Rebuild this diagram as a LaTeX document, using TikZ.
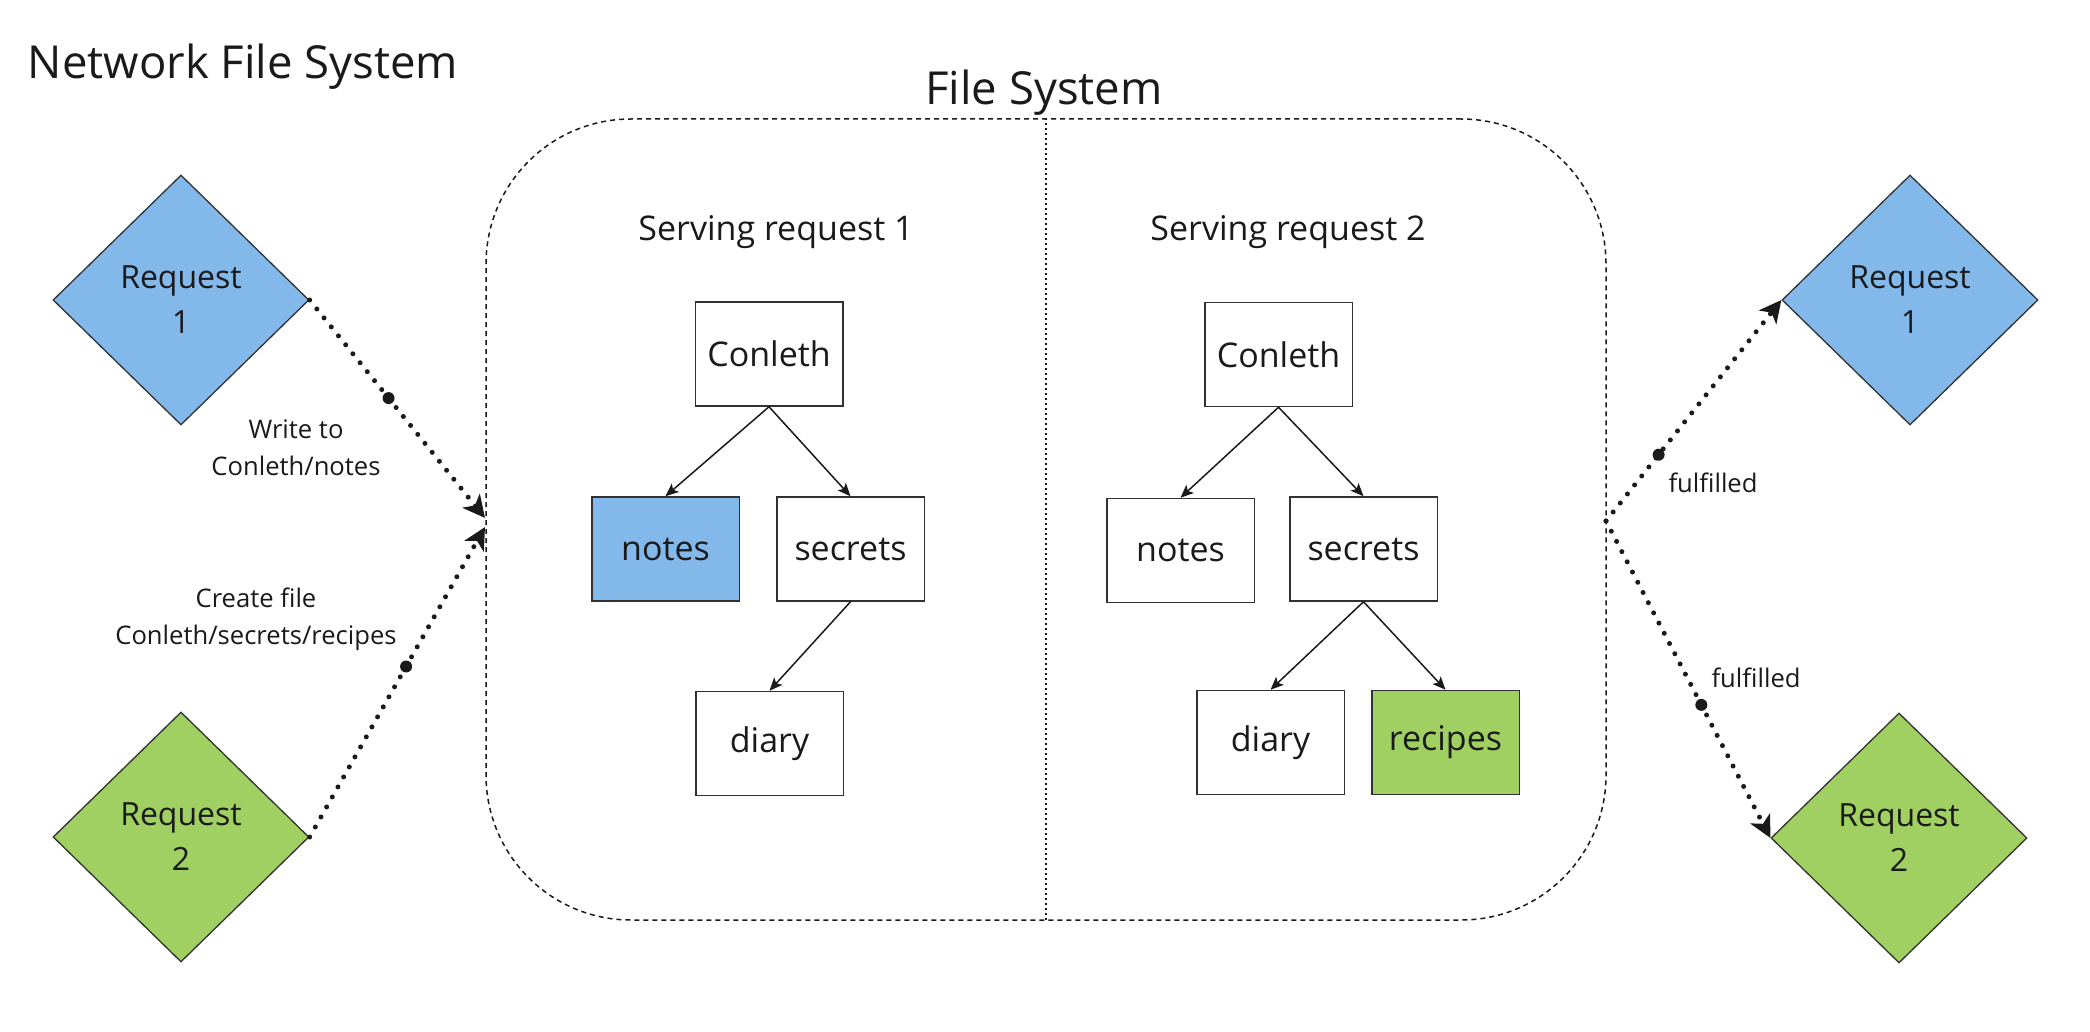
\documentclass[tikz,border=0pt]{standalone}
\usepackage{fontspec}
\setmainfont{Open Sans}
\usetikzlibrary{shapes.geometric,arrows.meta}
\definecolor{reqblue}{HTML}{83B8EB}
\definecolor{reqgreen}{HTML}{A0CF62}
\definecolor{ink}{HTML}{1A1A1A}
\tikzset{
  treebox/.style={draw=ink!90, line width=1.5pt, minimum width=147.5pt, minimum height=104pt, inner sep=0pt, fill=white, text=ink, font=\fontsize{34}{40}\selectfont},
  reqdiamond/.style={diamond, draw=ink!90, line width=1.3pt, minimum width=256pt, minimum height=250pt, inner sep=0pt, shape aspect=1.02, align=center, text=ink, font=\fontsize{32}{45}\selectfont},
  treearrow/.style={draw=ink, line width=1.5pt, -{Stealth[length=13pt,width=11pt,inset=3pt]}},
  flow/.style={draw=ink, line width=5pt, dash pattern=on 0pt off 11.5pt, line cap=round, -{Stealth[length=22pt,width=22pt,inset=6pt]}},
  bigdot/.style={circle, fill=ink, minimum size=12pt, inner sep=0pt},
  edgelabel/.style={align=center, text=ink, font=\fontsize{25.6}{37}\selectfont},
  heading/.style={text=ink, font=\fontsize{45.5}{60}\selectfont},
  subheading/.style={text=ink, font=\fontsize{34}{44}\selectfont},
  fsbox/.style={draw=ink, line width=1.5pt, dash pattern=on 5pt off 4pt, rounded corners=145pt, minimum width=1120pt, minimum height=801pt, inner sep=0pt}
}
\begin{document}
\begin{tikzpicture}[x=1pt,y=-1pt]
\useasboundingbox[fill=white] (0,0) rectangle (2090,1032);

% titles
\node[heading] (title) at (243,67) {Network File System};
\node[heading] (fstitle) at (1044,93) {File System};

% file system box
\node[fsbox] (fs) at (1046,519.5) {};
\draw[ink, line width=1.8pt, dash pattern=on 2pt off 3pt] (fs.north) -- (fs.south);

\node[subheading] (serv1) at (776,232) {Serving request 1};
\node[subheading] (serv2) at (1288,232) {Serving request 2};

% tree 1
\node[treebox] (c1) at (769,354) {Conleth};
\node[treebox, fill=reqblue] (n1) at (665.5,549) {notes};
\node[treebox] (s1) at (850.5,549) {secrets};
\node[treebox] (di1) at (769.5,743.5) {diary};
\draw[treearrow] (c1.south) -- (n1.north);
\draw[treearrow] (c1.south) -- (s1.north);
\draw[treearrow] (s1.south) -- (di1.north);

% tree 2
\node[treebox] (c2) at (1278.5,354.5) {Conleth};
\node[treebox] (n2) at (1180.5,550.5) {notes};
\node[treebox] (s2) at (1363.5,549) {secrets};
\node[treebox] (di2) at (1270.5,742.5) {diary};
\node[treebox, fill=reqgreen] (r2) at (1445.5,742.5) {recipes};
\draw[treearrow] (c2.south) -- (n2.north);
\draw[treearrow] (c2.south) -- (s2.north);
\draw[treearrow] (s2.south) -- (di2.north);
\draw[treearrow] (s2.south) -- (r2.north);

% requests
\node[reqdiamond, fill=reqblue] (q1) at (181,300) {Request\\1};
\node[reqdiamond, fill=reqgreen] (q2) at (181,837) {Request\\2};
\node[reqdiamond, fill=reqblue] (q3) at (1910,300) {Request\\1};
\node[reqdiamond, fill=reqgreen] (q4) at (1899,838) {Request\\2};

% connectors
\coordinate (in1) at (485,518);
\coordinate (in2) at (485,527);
\coordinate (out) at (1606,521);
\draw[flow] (q1.east) -- node[pos=0.45, bigdot] (m1) {} (in1);
\draw[flow] (q2.east) -- node[pos=0.55, bigdot] (m2) {} (in2);
\draw[flow] (out) -- node[pos=0.3, bigdot] (m3) {} (q3.west);
\draw[flow] (out) -- node[pos=0.58, bigdot] (m4) {} (q4.west);

\node[edgelabel] (l1) at (296,448) {Write to\\Conleth/notes};
\node[edgelabel] (l2) at (256,619) {Create file\\Conleth/secrets/recipes};
\node[edgelabel] (l3) at (1713,483) {fulfilled};
\node[edgelabel] (l4) at (1756,678) {fulfilled};
\end{tikzpicture}
\end{document}
